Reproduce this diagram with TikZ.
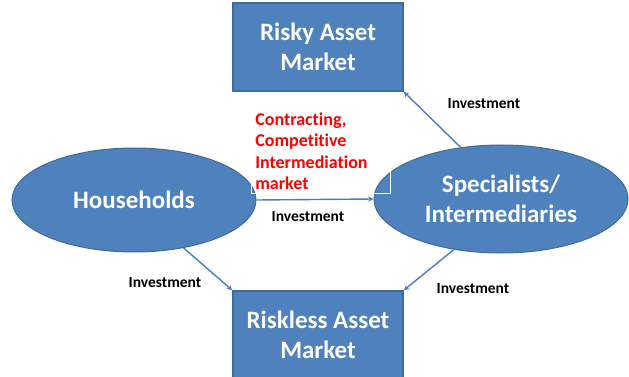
\documentclass[tikz,border=0pt]{standalone}
\usepackage{fontspec}
\setmainfont{Carlito}[Ligatures=NoCommon]
\usetikzlibrary{positioning}
\usetikzlibrary{arrows}
\usetikzlibrary{shapes.geometric}
\definecolor{boxblue}{HTML}{4F81BD}
\definecolor{boxline}{HTML}{3F6A9E}
\definecolor{flowblue}{HTML}{4A7EBB}

\begin{document}
\begin{tikzpicture}[x=1pt,y=-1pt,
  market/.style={draw=boxline, line width=1.5pt, fill=boxblue, minimum width=170pt, minimum height=88pt, inner sep=0pt, align=center, text=white, font=\fontsize{25}{30}\selectfont\bfseries},
  agent/.style={ellipse, draw=boxline, line width=1pt, fill=boxblue, inner sep=0pt, align=center, text=white, font=\fontsize{25}{30}\selectfont\bfseries},
  flow/.style={flowblue, line width=1.4pt, -stealth},
  lbl/.style={font=\fontsize{15.5}{18}\selectfont\bfseries}]
\useasboundingbox (0,0) rectangle (629,377);
\clip (0,0) rectangle (629,377);
%\draw[help lines] (0,0) grid (629,377);

\node [market] (risky) at (318,47) {Risky Asset\\Market};
\node [market] (riskless) at (318,335) {Riskless Asset\\Market};
\node [agent, minimum width=244pt, minimum height=104pt] (house) at (134,200) {Households};
\node [agent, minimum width=254pt, minimum height=108pt] (spec) at (501,199) {Specialists/\\Intermediaries};

\node [draw=white, line width=0.6pt, anchor=south west, inner sep=4pt, text width=131pt, align=left, text=red, font=\fontsize{18}{21.3}\selectfont\bfseries] (contract) at (251,194) {Contracting,\\Competitive\\Intermediation\\market};

\draw [flow] (house.east) -- (spec.west);
\draw [flow] (house.-44) -- (riskless.north west);
\draw [flow] (spec.-133) -- (riskless.north east);
\draw [flow] (spec.128) -- (risky.south east);

\node [lbl] at (308,217) {Investment};
\node [lbl] at (484,104) {Investment};
\node [lbl] at (165,283) {Investment};
\node [lbl] at (473,289) {Investment};

\end{tikzpicture}
\end{document}
